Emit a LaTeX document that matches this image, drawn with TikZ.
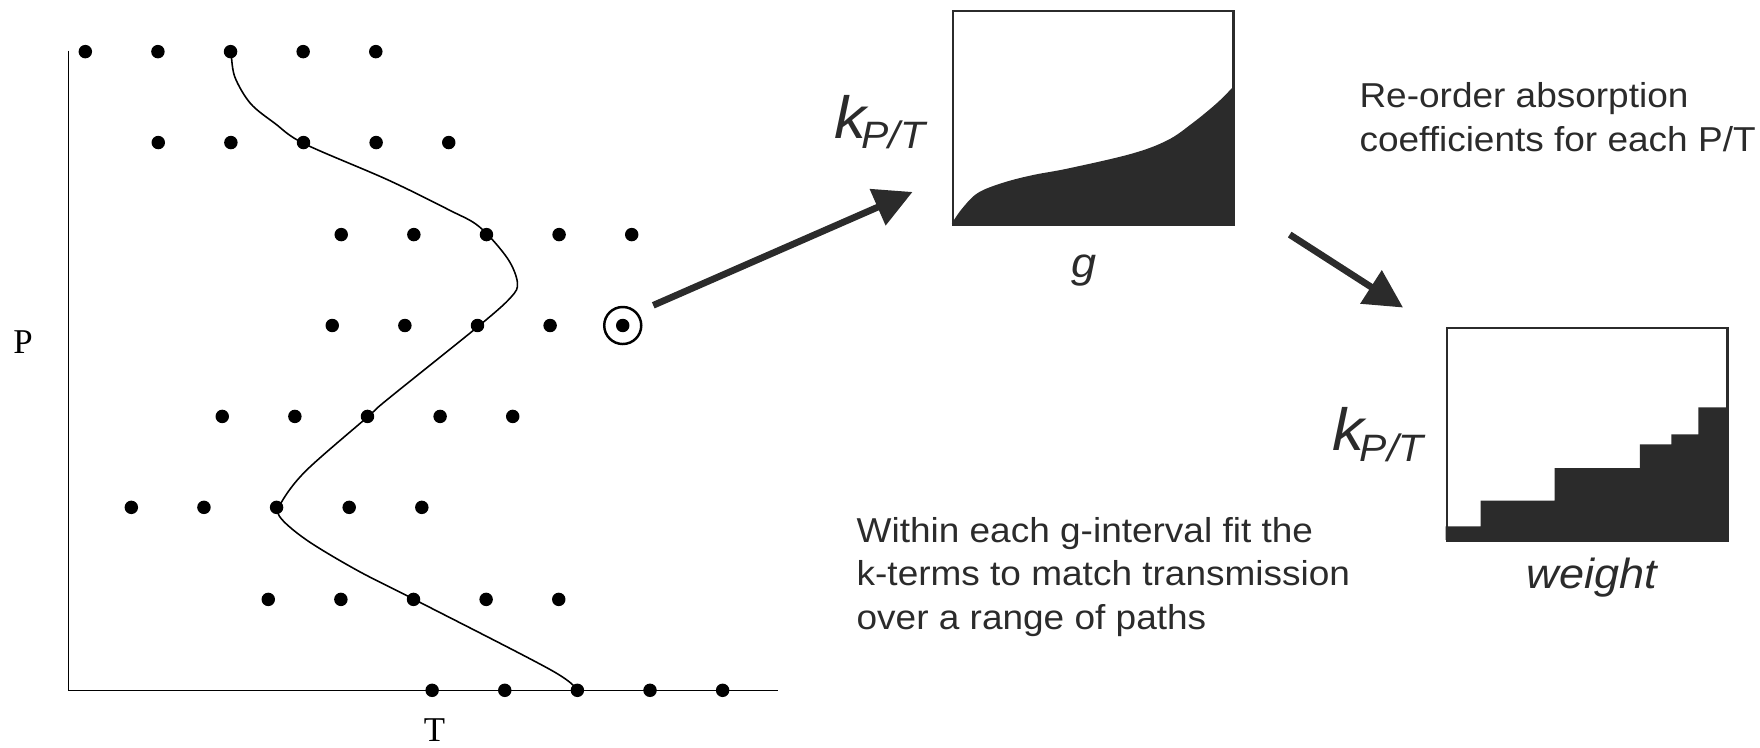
\documentclass[tikz,border=0pt]{standalone}
\usepackage{fontspec}
\setmainfont{Liberation Sans}[FakeStretch=1.07]
\newfontfamily\serifPT{Liberation Serif}
\usetikzlibrary{arrows.meta}
\definecolor{dk}{HTML}{2B2B2B}
\begin{document}
\begin{tikzpicture}[x=1pt,y=-1pt,
  dot/.style={circle, fill=black, inner sep=0pt, minimum size=12pt},
  axisline/.style={line width=1.2pt, black},
  curveline/.style={line width=1.4pt, black},
  bigarrow/.style={dk, line width=6pt, -{Triangle[length=34pt,width=34pt]}},
  plotbox/.style={draw=dk, line width=2pt, inner sep=0pt, minimum width=250pt, minimum height=190pt, anchor=north west},
  txt/.style={text=dk, font=\fontsize{30.8}{36}\selectfont, anchor=base west, inner sep=0pt},
  axlab/.style={font=\serifPT\fontsize{31}{31}\selectfont, anchor=base, inner sep=0pt},
  klab/.style={text=dk, font=\fontsize{53}{53}\selectfont\itshape, anchor=base west, inner sep=0pt},
  xlab/.style={text=dk, font=\fontsize{37.5}{37.5}\selectfont\itshape, anchor=base, inner sep=0pt}]
\useasboundingbox (0,0) rectangle (1568,666);

% axes
\coordinate (Ptop) at (61,45);
\coordinate (O) at (61,615);
\coordinate (Tend) at (693,615);
\draw[axisline] (Ptop) -- (O) -- (Tend);
\node[axlab] (Plab) at (20.5,315) {P};
\node[axlab] (Tlab) at (387,661) {T};

% curve
\draw[curveline] plot[smooth, tension=0.55] coordinates {
  (206,46) (209,68) (223,92) (245,110) (271,128) (345,160) (400,187) (427,202)
  (452,230) (461,252) (455,265) (427,290) (345,356) (328,371) (273,419)
  (251,447) (249,460) (273,481) (318,508) (369,534) (491,597) (514,615)};

% dots
\foreach \yy/\xa [count=\r] in {46/76, 127/141, 209/304, 290/296, 371/198, 452/117, 534/239, 615/385} {
  \foreach \c in {0,...,4} {
    \node[dot] (d\r\c) at ({\xa+64.7*\c},\yy) {};
  }
}
\node[draw, circle, line width=2.2pt, inner sep=0pt, minimum size=33pt] (sel) at (d44) {};

% arrow 1
\coordinate (a1s) at (582,272);
\coordinate (a1e) at (813,171);
\draw[bigarrow] (a1s) -- (a1e);

% box 1
\fill[dk] plot[smooth, tension=0.6] coordinates {
  (848,199) (857,186) (871,172) (893,163) (920,156) (952,150) (1008,137)
  (1040,125) (1062,110) (1084,92) (1098,78)} -- (1098,199) -- cycle;
\node[plotbox] (box1) at (848,9) {};
\node[klab] (k1) at (743,123) {k\kern-4pt\raisebox{-9pt}{\fontsize{34}{34}\selectfont P/T}};
\node[xlab] (g) at (966,247) {g};

% text 1
\node[txt] (t1a) at (1211,96) {Re-order absorption};
\node[txt] (t1b) at (1211,135) {coefficients for each P/T};

% arrow 2
\coordinate (a2s) at (1149,209);
\coordinate (a2e) at (1250,274);
\draw[bigarrow] (a2s) -- (a2e);

% box 2
\fill[dk] (1288,481) -- (1288,469) -- (1319,469) -- (1319,446) -- (1385,446)
  -- (1385,417) -- (1461,417) -- (1461,396) -- (1489,396) -- (1489,387)
  -- (1513,387) -- (1513,363) -- (1538,363) -- (1538,481) -- cycle;
\node[plotbox] (box2) at (1288,291) {};
\node[klab] (k2) at (1187,401) {k\kern-4pt\raisebox{-10pt}{\fontsize{34}{34}\selectfont P/T}};
\node[xlab] (w) at (1418,524) {weight};

% text 2
\node[txt] (t2a) at (763,483) {Within each g-interval fit the};
\node[txt] (t2b) at (763,522) {k-terms to match transmission};
\node[txt] (t2c) at (763,561) {over a range of paths};
\end{tikzpicture}
\end{document}
